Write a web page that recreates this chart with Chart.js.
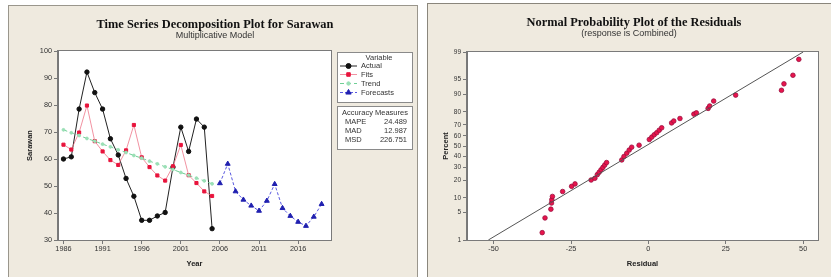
<!DOCTYPE html>
<html><head><meta charset="utf-8">
<script src="https://cdn.jsdelivr.net/npm/chart.js@4.4.1/dist/chart.umd.min.js"></script>
<style>
html,body{margin:0;padding:0;background:#fff;width:831px;height:277px;overflow:hidden;position:relative;}
.panel{position:absolute;background:#efeadf;box-sizing:border-box;}
#p1{left:8px;top:5px;width:410px;height:272px;border:1px solid #9a968c;border-bottom:none;}
#p2{left:427px;top:3px;width:404px;height:274px;border:1px solid #8a867c;border-bottom:none;border-right:none;}
canvas{position:absolute;}
</style></head><body>
<div class="panel" id="p1"></div><div class="panel" id="p2"></div>
<canvas id="c1" style="left:9px;top:6px;width:408px;height:271px" width="408" height="271"></canvas>
<canvas id="c2" style="left:428px;top:4px;width:403px;height:273px" width="403" height="273"></canvas>
<script>
// ---------- Left chart data ----------
const actualYears=[1986,1987,1988,1989,1990,1991,1992,1993,1994,1995,1996,1997,1998,1999,2000,2001,2002,2003,2004,2005];
const actual=[60.0,60.8,78.5,92.2,84.6,78.5,67.5,61.5,52.8,46.2,37.3,37.3,38.9,40.2,57.0,71.8,62.8,74.8,71.8,34.2];
const fits=[65.3,63.5,69.8,79.8,66.6,62.8,59.6,57.8,63.2,72.6,60.6,57.0,53.9,52.0,57.3,65.2,54.0,51.1,48.0,46.3];
const trend=[70.8,69.7,68.7,67.6,66.6,65.5,64.5,63.4,62.4,61.3,60.3,59.2,58.2,57.1,56.1,55.0,54.0,52.9,51.9,50.8];
const forecastYears=[2006,2007,2008,2009,2010,2011,2012,2013,2014,2015,2016,2017,2018,2019];
const forecasts=[51.0,58.2,48.0,44.9,42.7,40.8,44.5,50.7,41.8,38.9,36.7,35.2,38.6,43.3];
const yearTicks=[1986,1991,1996,2001,2006,2011,2016];
const accuracyLabels=['MAPE','MAD','MSD'];
const accuracyValues=['24.489','12.987','226.751'];
const legendNames=['Actual','Fits','Trend','Forecasts'];

// ---------- Right chart data ----------
const residuals=[-34.3,-33.4,-31.5,-31.3,-31.2,-31.0,-27.7,-24.8,-23.7,-18.5,-17.3,-16.5,-15.9,-15.3,-14.7,-14.1,-13.5,-8.6,-7.9,-7.0,-6.2,-5.4,-3.0,0.3,1.1,1.9,2.7,3.5,4.3,7.5,8.2,10.2,14.7,15.5,19.3,19.8,21.1,28.2,43.0,43.8,46.7,48.6];
const residualPercents=[1.6,3.75,5.9,7.9,9.2,10.6,13.0,15.9,17.4,20.0,21.2,23.9,25.8,27.8,29.8,31.9,34.1,36.5,39.7,42.9,46.0,48.8,50.8,56.4,58.7,61.0,62.9,65.2,67.4,71.6,73.2,75.2,78.5,79.4,82.4,83.9,86.7,89.6,91.6,93.8,96.0,98.4];
const percentTicks=[1,5,10,20,30,40,50,60,70,80,90,95,99];
const residualTicks=[-50,-25,0,25,50];
const fitLineResidual=[-51.7,50.0];
const fitLinePercent=[1,99];

function probit(p){
 const a=[-3.969683028665376e+01,2.209460984245205e+02,-2.759285104469687e+02,1.383577518672690e+02,-3.066479806614716e+01,2.506628277459239e+00];
 const b=[-5.447609879822406e+01,1.615858368580409e+02,-1.556989798598866e+02,6.680131188771972e+01,-1.328068155288572e+01];
 const c=[-7.784894002430293e-03,-3.223964580411365e-01,-2.400758277161838e+00,-2.549732539343734e+00,4.374664141464968e+00,2.938163982698783e+00];
 const d=[7.784695709041462e-03,3.224671290700398e-01,2.445134137142996e+00,3.754408661907416e+00];
 const pl=0.02425,ph=1-pl;let q,r;
 if(p<pl){q=Math.sqrt(-2*Math.log(p));return (((((c[0]*q+c[1])*q+c[2])*q+c[3])*q+c[4])*q+c[5])/((((d[0]*q+d[1])*q+d[2])*q+d[3])*q+1);}
 if(p<=ph){q=p-0.5;r=q*q;return (((((a[0]*r+a[1])*r+a[2])*r+a[3])*r+a[4])*r+a[5])*q/(((((b[0]*r+b[1])*r+b[2])*r+b[3])*r+b[4])*r+1);}
 q=Math.sqrt(-2*Math.log(1-p));return -(((((c[0]*q+c[1])*q+c[2])*q+c[3])*q+c[4])*q+c[5])/((((d[0]*q+d[1])*q+d[2])*q+d[3])*q+1);
}

Chart.defaults.font.family="'Liberation Sans', Arial, sans-serif";
Chart.defaults.color='#333';
const SERIF="'Liberation Serif','Times New Roman',serif";
const SANS="'Liberation Sans', Arial, sans-serif";

function framePlugin(opts){
 return {
  id:'frame'+opts.key,
  beforeDraw(chart){
   const {ctx,chartArea:a}=chart;
   ctx.save();ctx.fillStyle='#ffffff';ctx.fillRect(a.left,a.top,a.right-a.left,a.bottom-a.top);ctx.restore();
  },
  afterDraw(chart){
   const {ctx,chartArea:a}=chart;
   ctx.save();
   ctx.strokeStyle='#7a7a7a';ctx.lineWidth=1;
   ctx.strokeRect(Math.round(a.left)-0.5,Math.round(a.top)-0.5,Math.round(a.right-a.left)+1,Math.round(a.bottom-a.top)+1);
   ctx.fillStyle='#111';ctx.textAlign='center';ctx.textBaseline='middle';
   ctx.font='bold '+opts.titleSize+'px '+SERIF;ctx.fillText(opts.title,opts.tx,opts.ty);
   ctx.fillStyle='#333';
   ctx.font=opts.subSize+'px '+SANS;ctx.fillText(opts.sub,opts.sx,opts.sy);
   ctx.restore();
   if(opts.extra)opts.extra(chart);
  }
 };
}

const styles={
 Actual:{line:'#222222',fill:'#111111',point:'circle',r:2.2,dash:[]},
 Fits:{line:'rgba(236,110,130,0.75)',fill:'#e8143c',point:'rect',r:2.2,dash:[]},
 Trend:{line:'#6fcf95',fill:'#9ae0b6',point:'circle',r:1.4,dash:[4,3]},
 Forecasts:{line:'#5a5ae0',fill:'#2020b0',point:'triangle',r:2.8,dash:[3,2]}
};

function drawLegend(chart){
 const ctx=chart.ctx;
 ctx.save();
 const bx=328.5,bw=75;
 ctx.strokeStyle='#8a8a8a';ctx.lineWidth=1;ctx.fillStyle='#ffffff';
 ctx.fillRect(bx,46.5,bw,50);ctx.strokeRect(bx,46.5,bw,50);
 ctx.fillRect(bx,100.5,bw,43);ctx.strokeRect(bx,100.5,bw,43);
 ctx.fillStyle='#333';ctx.font='7.5px '+SANS;ctx.textBaseline='middle';
 ctx.textAlign='center';ctx.fillText('Variable',370,51.5);
 const rows=[60,68.5,77.5,86.5];
 legendNames.forEach((n,i)=>{
  const s=styles[n];const y=rows[i];
  ctx.save();ctx.strokeStyle=s.line;ctx.lineWidth=1;ctx.setLineDash(s.dash);
  ctx.beginPath();ctx.moveTo(331,y);ctx.lineTo(348,y);ctx.stroke();ctx.restore();
  ctx.save();ctx.fillStyle=s.fill;ctx.strokeStyle=s.fill;
  Chart.helpers.drawPoint(ctx,{pointStyle:s.point,radius:s.r+0.3,rotation:0,borderWidth:1},339.5,y);ctx.restore();
  ctx.fillStyle='#333';ctx.textAlign='left';ctx.fillText(n,352,y);
 });
 ctx.textAlign='center';ctx.fillText('Accuracy Measures',366,106.5);
 accuracyLabels.forEach((l,i)=>{
  const y=115.5+i*9;
  ctx.textAlign='left';ctx.fillText(l,336,y);
  ctx.textAlign='right';ctx.fillText(accuracyValues[i],398,y);
 });
 ctx.restore();
}

function ds(name,xs,ys){
 const s=styles[name];
 return {label:name,data:xs.map((x,i)=>({x:x,y:ys[i]})),borderColor:s.line,backgroundColor:s.fill,pointBorderColor:s.fill,
  pointBackgroundColor:s.fill,pointStyle:s.point,pointRadius:s.r,borderWidth:1,borderDash:s.dash,showLine:true,tension:0,pointHoverRadius:s.r};
}

new Chart(document.getElementById('c1'),{
 type:'scatter',
 data:{datasets:[ds('Trend',actualYears,trend),ds('Fits',actualYears,fits),ds('Forecasts',forecastYears,forecasts),ds('Actual',actualYears,actual)]},
 options:{
  responsive:false,animation:false,devicePixelRatio:1,
  layout:{padding:{left:12,top:45,right:86,bottom:7}},
  plugins:{legend:{display:false},tooltip:{enabled:false},title:{display:false}},
  scales:{
   x:{type:'linear',min:1985.3,max:2020.2,
    afterBuildTicks:(ax)=>{ax.ticks=yearTicks.map(v=>({value:v}));},
    afterFit:(ax)=>{ax.height=30;},
    ticks:{autoSkip:false,maxRotation:0,padding:1,font:{size:7.3},color:'#333',callback:(v)=>String(v)},
    grid:{drawOnChartArea:false,drawTicks:true,tickLength:4,color:'#777'},
    border:{display:true,color:'#777'},
    title:{display:true,text:'Year',font:{size:7.5,weight:'bold'},color:'#222',padding:{top:0,bottom:2}}},
   y:{type:'linear',min:30,max:100,
    afterFit:(ax)=>{ax.width=37;},
    ticks:{stepSize:10,autoSkip:false,padding:2,font:{size:7.3},color:'#333'},
    grid:{drawOnChartArea:false,drawTicks:true,tickLength:4,color:'#777'},
    border:{display:true,color:'#777'},
    title:{display:true,text:'Sarawan',font:{size:7.5,weight:'bold'},color:'#222',padding:{top:4,bottom:0}}}
  }
 },
 plugins:[framePlugin({key:'L',title:'Time Series Decomposition Plot for Sarawan',titleSize:12.4,tx:206,ty:19,sub:'Multiplicative Model',sx:206,sy:29.5,subSize:9,extra:drawLegend})]
});

new Chart(document.getElementById('c2'),{
 type:'scatter',
 data:{datasets:[
  {label:'Fit',data:fitLineResidual.map((x,i)=>({x:x,y:probit(fitLinePercent[i]/100)})),showLine:true,borderColor:'#555',borderWidth:1,pointRadius:0,pointHoverRadius:0},
  {label:'Residuals',data:residuals.map((x,i)=>({x:x,y:probit(residualPercents[i]/100)})),backgroundColor:'#e8144c',pointBackgroundColor:'#e8144c',pointBorderColor:'#9a1040',pointBorderWidth:0.8,pointRadius:2.3,showLine:false}
 ]},
 options:{
  responsive:false,animation:false,devicePixelRatio:1,
  layout:{padding:{left:9,top:48,right:13,bottom:7}},
  plugins:{legend:{display:false},tooltip:{enabled:false},title:{display:false}},
  scales:{
   x:{type:'linear',min:-58.6,max:54.8,
    afterBuildTicks:(ax)=>{ax.ticks=residualTicks.map(v=>({value:v}));},
    afterFit:(ax)=>{ax.height=30;},
    ticks:{autoSkip:false,maxRotation:0,padding:1,font:{size:7.3},color:'#333',callback:(v)=>String(v)},
    grid:{drawOnChartArea:false,drawTicks:true,tickLength:4,color:'#777'},
    border:{display:true,color:'#777'},
    title:{display:true,text:'Residual',font:{size:7.5,weight:'bold'},color:'#222',padding:{top:0,bottom:2}}},
   y:{type:'linear',min:probit(0.01),max:probit(0.99),
    afterBuildTicks:(ax)=>{ax.ticks=percentTicks.map(p=>({value:probit(p/100)}));},
    afterFit:(ax)=>{ax.width=30;},
    ticks:{autoSkip:false,padding:2,font:{size:6.5},color:'#333',callback:(v,i)=>String(percentTicks[i])},
    grid:{drawOnChartArea:false,drawTicks:true,tickLength:4,color:'#777'},
    border:{display:true,color:'#777'},
    title:{display:true,text:'Percent',font:{size:7.5,weight:'bold'},color:'#222',padding:{top:4,bottom:0}}}
  }
 },
 plugins:[framePlugin({key:'R',title:'Normal Probability Plot of the Residuals',titleSize:12.4,tx:206,ty:19,sub:'(response is Combined)',sx:201,sy:29.5,subSize:9})]
});
</script>
</body></html>
